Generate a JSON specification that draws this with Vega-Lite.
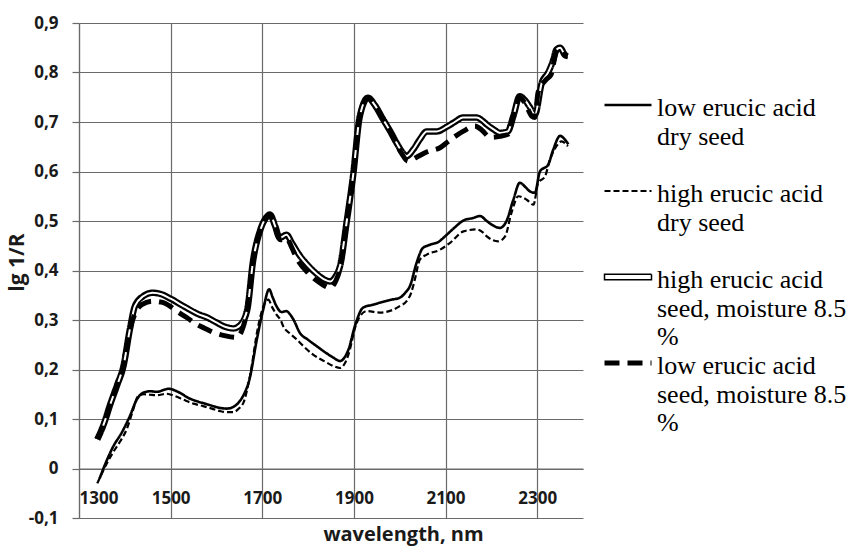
{
  "$schema": "https://vega.github.io/schema/vega-lite/v6.json",
  "width": 504,
  "height": 495,
  "autosize": {"type": "none"},
  "padding": {"left": 79, "top": 23, "right": 282, "bottom": 30},
  "background": "white",
  "config": {"view": {"stroke": null}},
  "datasets": {
    "spectra": [
      {"series": "low erucic acid dry seed", "wl": 1345, "val": -0.02},
      {"series": "low erucic acid dry seed", "wl": 1360, "val": 0.015},
      {"series": "low erucic acid dry seed", "wl": 1375, "val": 0.045},
      {"series": "low erucic acid dry seed", "wl": 1393, "val": 0.072},
      {"series": "low erucic acid dry seed", "wl": 1411, "val": 0.106},
      {"series": "low erucic acid dry seed", "wl": 1426, "val": 0.139},
      {"series": "low erucic acid dry seed", "wl": 1440, "val": 0.153},
      {"series": "low erucic acid dry seed", "wl": 1455, "val": 0.156},
      {"series": "low erucic acid dry seed", "wl": 1470, "val": 0.155},
      {"series": "low erucic acid dry seed", "wl": 1495, "val": 0.161},
      {"series": "low erucic acid dry seed", "wl": 1520, "val": 0.153},
      {"series": "low erucic acid dry seed", "wl": 1540, "val": 0.142},
      {"series": "low erucic acid dry seed", "wl": 1557, "val": 0.136},
      {"series": "low erucic acid dry seed", "wl": 1575, "val": 0.131},
      {"series": "low erucic acid dry seed", "wl": 1593, "val": 0.126},
      {"series": "low erucic acid dry seed", "wl": 1610, "val": 0.122},
      {"series": "low erucic acid dry seed", "wl": 1622, "val": 0.121},
      {"series": "low erucic acid dry seed", "wl": 1636, "val": 0.124},
      {"series": "low erucic acid dry seed", "wl": 1648, "val": 0.133},
      {"series": "low erucic acid dry seed", "wl": 1660, "val": 0.15},
      {"series": "low erucic acid dry seed", "wl": 1672, "val": 0.18},
      {"series": "low erucic acid dry seed", "wl": 1688, "val": 0.26},
      {"series": "low erucic acid dry seed", "wl": 1702, "val": 0.321},
      {"series": "low erucic acid dry seed", "wl": 1715, "val": 0.362},
      {"series": "low erucic acid dry seed", "wl": 1723, "val": 0.345},
      {"series": "low erucic acid dry seed", "wl": 1731, "val": 0.328},
      {"series": "low erucic acid dry seed", "wl": 1742, "val": 0.316},
      {"series": "low erucic acid dry seed", "wl": 1753, "val": 0.318},
      {"series": "low erucic acid dry seed", "wl": 1760, "val": 0.312},
      {"series": "low erucic acid dry seed", "wl": 1768, "val": 0.301},
      {"series": "low erucic acid dry seed", "wl": 1782, "val": 0.274},
      {"series": "low erucic acid dry seed", "wl": 1800, "val": 0.26},
      {"series": "low erucic acid dry seed", "wl": 1819, "val": 0.247},
      {"series": "low erucic acid dry seed", "wl": 1840, "val": 0.233},
      {"series": "low erucic acid dry seed", "wl": 1855, "val": 0.224},
      {"series": "low erucic acid dry seed", "wl": 1870, "val": 0.217},
      {"series": "low erucic acid dry seed", "wl": 1880, "val": 0.225},
      {"series": "low erucic acid dry seed", "wl": 1888, "val": 0.24},
      {"series": "low erucic acid dry seed", "wl": 1902, "val": 0.287},
      {"series": "low erucic acid dry seed", "wl": 1920, "val": 0.325},
      {"series": "low erucic acid dry seed", "wl": 1942, "val": 0.331},
      {"series": "low erucic acid dry seed", "wl": 1957, "val": 0.335},
      {"series": "low erucic acid dry seed", "wl": 1982, "val": 0.341},
      {"series": "low erucic acid dry seed", "wl": 2000, "val": 0.345},
      {"series": "low erucic acid dry seed", "wl": 2012, "val": 0.355},
      {"series": "low erucic acid dry seed", "wl": 2022, "val": 0.368},
      {"series": "low erucic acid dry seed", "wl": 2037, "val": 0.416},
      {"series": "low erucic acid dry seed", "wl": 2050, "val": 0.445},
      {"series": "low erucic acid dry seed", "wl": 2066, "val": 0.452},
      {"series": "low erucic acid dry seed", "wl": 2085, "val": 0.458},
      {"series": "low erucic acid dry seed", "wl": 2100, "val": 0.47},
      {"series": "low erucic acid dry seed", "wl": 2120, "val": 0.487},
      {"series": "low erucic acid dry seed", "wl": 2139, "val": 0.501},
      {"series": "low erucic acid dry seed", "wl": 2160, "val": 0.506},
      {"series": "low erucic acid dry seed", "wl": 2175, "val": 0.51},
      {"series": "low erucic acid dry seed", "wl": 2190, "val": 0.5},
      {"series": "low erucic acid dry seed", "wl": 2200, "val": 0.493},
      {"series": "low erucic acid dry seed", "wl": 2219, "val": 0.486},
      {"series": "low erucic acid dry seed", "wl": 2233, "val": 0.5},
      {"series": "low erucic acid dry seed", "wl": 2248, "val": 0.543},
      {"series": "low erucic acid dry seed", "wl": 2262, "val": 0.577},
      {"series": "low erucic acid dry seed", "wl": 2275, "val": 0.568},
      {"series": "low erucic acid dry seed", "wl": 2284, "val": 0.56},
      {"series": "low erucic acid dry seed", "wl": 2295, "val": 0.557},
      {"series": "low erucic acid dry seed", "wl": 2306, "val": 0.6},
      {"series": "low erucic acid dry seed", "wl": 2324, "val": 0.614},
      {"series": "low erucic acid dry seed", "wl": 2335, "val": 0.644},
      {"series": "low erucic acid dry seed", "wl": 2350, "val": 0.672},
      {"series": "low erucic acid dry seed", "wl": 2360, "val": 0.665},
      {"series": "low erucic acid dry seed", "wl": 2368, "val": 0.655},

      {"series": "high erucic acid dry seed", "wl": 1340, "val": -0.03},
      {"series": "high erucic acid dry seed", "wl": 1355, "val": 0.0},
      {"series": "high erucic acid dry seed", "wl": 1374, "val": 0.032},
      {"series": "high erucic acid dry seed", "wl": 1390, "val": 0.055},
      {"series": "high erucic acid dry seed", "wl": 1404, "val": 0.079},
      {"series": "high erucic acid dry seed", "wl": 1417, "val": 0.115},
      {"series": "high erucic acid dry seed", "wl": 1429, "val": 0.146},
      {"series": "high erucic acid dry seed", "wl": 1442, "val": 0.15},
      {"series": "high erucic acid dry seed", "wl": 1455, "val": 0.149},
      {"series": "high erucic acid dry seed", "wl": 1470, "val": 0.148},
      {"series": "high erucic acid dry seed", "wl": 1491, "val": 0.151},
      {"series": "high erucic acid dry seed", "wl": 1510, "val": 0.146},
      {"series": "high erucic acid dry seed", "wl": 1528, "val": 0.139},
      {"series": "high erucic acid dry seed", "wl": 1550, "val": 0.131},
      {"series": "high erucic acid dry seed", "wl": 1571, "val": 0.126},
      {"series": "high erucic acid dry seed", "wl": 1590, "val": 0.121},
      {"series": "high erucic acid dry seed", "wl": 1608, "val": 0.116},
      {"series": "high erucic acid dry seed", "wl": 1622, "val": 0.114},
      {"series": "high erucic acid dry seed", "wl": 1637, "val": 0.114},
      {"series": "high erucic acid dry seed", "wl": 1650, "val": 0.122},
      {"series": "high erucic acid dry seed", "wl": 1659, "val": 0.133},
      {"series": "high erucic acid dry seed", "wl": 1673, "val": 0.186},
      {"series": "high erucic acid dry seed", "wl": 1691, "val": 0.287},
      {"series": "high erucic acid dry seed", "wl": 1706, "val": 0.335},
      {"series": "high erucic acid dry seed", "wl": 1713, "val": 0.341},
      {"series": "high erucic acid dry seed", "wl": 1722, "val": 0.325},
      {"series": "high erucic acid dry seed", "wl": 1731, "val": 0.311},
      {"series": "high erucic acid dry seed", "wl": 1740, "val": 0.3},
      {"series": "high erucic acid dry seed", "wl": 1746, "val": 0.287},
      {"series": "high erucic acid dry seed", "wl": 1760, "val": 0.273},
      {"series": "high erucic acid dry seed", "wl": 1775, "val": 0.261},
      {"series": "high erucic acid dry seed", "wl": 1790, "val": 0.247},
      {"series": "high erucic acid dry seed", "wl": 1811, "val": 0.23},
      {"series": "high erucic acid dry seed", "wl": 1835, "val": 0.217},
      {"series": "high erucic acid dry seed", "wl": 1855, "val": 0.207},
      {"series": "high erucic acid dry seed", "wl": 1870, "val": 0.203},
      {"series": "high erucic acid dry seed", "wl": 1880, "val": 0.212},
      {"series": "high erucic acid dry seed", "wl": 1888, "val": 0.23},
      {"series": "high erucic acid dry seed", "wl": 1906, "val": 0.294},
      {"series": "high erucic acid dry seed", "wl": 1928, "val": 0.318},
      {"series": "high erucic acid dry seed", "wl": 1957, "val": 0.315},
      {"series": "high erucic acid dry seed", "wl": 1986, "val": 0.321},
      {"series": "high erucic acid dry seed", "wl": 2000, "val": 0.328},
      {"series": "high erucic acid dry seed", "wl": 2015, "val": 0.338},
      {"series": "high erucic acid dry seed", "wl": 2025, "val": 0.355},
      {"series": "high erucic acid dry seed", "wl": 2033, "val": 0.382},
      {"series": "high erucic acid dry seed", "wl": 2044, "val": 0.422},
      {"series": "high erucic acid dry seed", "wl": 2059, "val": 0.432},
      {"series": "high erucic acid dry seed", "wl": 2088, "val": 0.442},
      {"series": "high erucic acid dry seed", "wl": 2110, "val": 0.456},
      {"series": "high erucic acid dry seed", "wl": 2139, "val": 0.479},
      {"series": "high erucic acid dry seed", "wl": 2168, "val": 0.483},
      {"series": "high erucic acid dry seed", "wl": 2180, "val": 0.478},
      {"series": "high erucic acid dry seed", "wl": 2190, "val": 0.469},
      {"series": "high erucic acid dry seed", "wl": 2215, "val": 0.459},
      {"series": "high erucic acid dry seed", "wl": 2230, "val": 0.469},
      {"series": "high erucic acid dry seed", "wl": 2244, "val": 0.517},
      {"series": "high erucic acid dry seed", "wl": 2259, "val": 0.55},
      {"series": "high erucic acid dry seed", "wl": 2277, "val": 0.543},
      {"series": "high erucic acid dry seed", "wl": 2292, "val": 0.533},
      {"series": "high erucic acid dry seed", "wl": 2302, "val": 0.577},
      {"series": "high erucic acid dry seed", "wl": 2317, "val": 0.59},
      {"series": "high erucic acid dry seed", "wl": 2328, "val": 0.624},
      {"series": "high erucic acid dry seed", "wl": 2342, "val": 0.651},
      {"series": "high erucic acid dry seed", "wl": 2353, "val": 0.661},
      {"series": "high erucic acid dry seed", "wl": 2367, "val": 0.651},

      {"series": "high erucic acid seed, moisture 8.5 %", "wl": 1340, "val": 0.059},
      {"series": "high erucic acid seed, moisture 8.5 %", "wl": 1355, "val": 0.092},
      {"series": "high erucic acid seed, moisture 8.5 %", "wl": 1368, "val": 0.129},
      {"series": "high erucic acid seed, moisture 8.5 %", "wl": 1383, "val": 0.168},
      {"series": "high erucic acid seed, moisture 8.5 %", "wl": 1397, "val": 0.207},
      {"series": "high erucic acid seed, moisture 8.5 %", "wl": 1411, "val": 0.281},
      {"series": "high erucic acid seed, moisture 8.5 %", "wl": 1422, "val": 0.328},
      {"series": "high erucic acid seed, moisture 8.5 %", "wl": 1440, "val": 0.348},
      {"series": "high erucic acid seed, moisture 8.5 %", "wl": 1460, "val": 0.355},
      {"series": "high erucic acid seed, moisture 8.5 %", "wl": 1480, "val": 0.352},
      {"series": "high erucic acid seed, moisture 8.5 %", "wl": 1500, "val": 0.343},
      {"series": "high erucic acid seed, moisture 8.5 %", "wl": 1530, "val": 0.327},
      {"series": "high erucic acid seed, moisture 8.5 %", "wl": 1560, "val": 0.312},
      {"series": "high erucic acid seed, moisture 8.5 %", "wl": 1580, "val": 0.305},
      {"series": "high erucic acid seed, moisture 8.5 %", "wl": 1600, "val": 0.295},
      {"series": "high erucic acid seed, moisture 8.5 %", "wl": 1620, "val": 0.286},
      {"series": "high erucic acid seed, moisture 8.5 %", "wl": 1637, "val": 0.283},
      {"series": "high erucic acid seed, moisture 8.5 %", "wl": 1652, "val": 0.29},
      {"series": "high erucic acid seed, moisture 8.5 %", "wl": 1667, "val": 0.32},
      {"series": "high erucic acid seed, moisture 8.5 %", "wl": 1680, "val": 0.42},
      {"series": "high erucic acid seed, moisture 8.5 %", "wl": 1695, "val": 0.48},
      {"series": "high erucic acid seed, moisture 8.5 %", "wl": 1707, "val": 0.505},
      {"series": "high erucic acid seed, moisture 8.5 %", "wl": 1717, "val": 0.513},
      {"series": "high erucic acid seed, moisture 8.5 %", "wl": 1728, "val": 0.49},
      {"series": "high erucic acid seed, moisture 8.5 %", "wl": 1738, "val": 0.466},
      {"series": "high erucic acid seed, moisture 8.5 %", "wl": 1753, "val": 0.472},
      {"series": "high erucic acid seed, moisture 8.5 %", "wl": 1765, "val": 0.455},
      {"series": "high erucic acid seed, moisture 8.5 %", "wl": 1782, "val": 0.43},
      {"series": "high erucic acid seed, moisture 8.5 %", "wl": 1800, "val": 0.41},
      {"series": "high erucic acid seed, moisture 8.5 %", "wl": 1819, "val": 0.393},
      {"series": "high erucic acid seed, moisture 8.5 %", "wl": 1835, "val": 0.382},
      {"series": "high erucic acid seed, moisture 8.5 %", "wl": 1848, "val": 0.378},
      {"series": "high erucic acid seed, moisture 8.5 %", "wl": 1860, "val": 0.388},
      {"series": "high erucic acid seed, moisture 8.5 %", "wl": 1870, "val": 0.41},
      {"series": "high erucic acid seed, moisture 8.5 %", "wl": 1884, "val": 0.497},
      {"series": "high erucic acid seed, moisture 8.5 %", "wl": 1898, "val": 0.59},
      {"series": "high erucic acid seed, moisture 8.5 %", "wl": 1913, "val": 0.712},
      {"series": "high erucic acid seed, moisture 8.5 %", "wl": 1931, "val": 0.749},
      {"series": "high erucic acid seed, moisture 8.5 %", "wl": 1945, "val": 0.735},
      {"series": "high erucic acid seed, moisture 8.5 %", "wl": 1964, "val": 0.705},
      {"series": "high erucic acid seed, moisture 8.5 %", "wl": 1980, "val": 0.68},
      {"series": "high erucic acid seed, moisture 8.5 %", "wl": 1993, "val": 0.658},
      {"series": "high erucic acid seed, moisture 8.5 %", "wl": 2005, "val": 0.64},
      {"series": "high erucic acid seed, moisture 8.5 %", "wl": 2015, "val": 0.631},
      {"series": "high erucic acid seed, moisture 8.5 %", "wl": 2030, "val": 0.645},
      {"series": "high erucic acid seed, moisture 8.5 %", "wl": 2044, "val": 0.665},
      {"series": "high erucic acid seed, moisture 8.5 %", "wl": 2059, "val": 0.681},
      {"series": "high erucic acid seed, moisture 8.5 %", "wl": 2081, "val": 0.681},
      {"series": "high erucic acid seed, moisture 8.5 %", "wl": 2102, "val": 0.69},
      {"series": "high erucic acid seed, moisture 8.5 %", "wl": 2120, "val": 0.7},
      {"series": "high erucic acid seed, moisture 8.5 %", "wl": 2138, "val": 0.709},
      {"series": "high erucic acid seed, moisture 8.5 %", "wl": 2168, "val": 0.709},
      {"series": "high erucic acid seed, moisture 8.5 %", "wl": 2180, "val": 0.703},
      {"series": "high erucic acid seed, moisture 8.5 %", "wl": 2190, "val": 0.695},
      {"series": "high erucic acid seed, moisture 8.5 %", "wl": 2205, "val": 0.685},
      {"series": "high erucic acid seed, moisture 8.5 %", "wl": 2219, "val": 0.678},
      {"series": "high erucic acid seed, moisture 8.5 %", "wl": 2236, "val": 0.681},
      {"series": "high erucic acid seed, moisture 8.5 %", "wl": 2248, "val": 0.712},
      {"series": "high erucic acid seed, moisture 8.5 %", "wl": 2262, "val": 0.752},
      {"series": "high erucic acid seed, moisture 8.5 %", "wl": 2275, "val": 0.742},
      {"series": "high erucic acid seed, moisture 8.5 %", "wl": 2284, "val": 0.73},
      {"series": "high erucic acid seed, moisture 8.5 %", "wl": 2295, "val": 0.715},
      {"series": "high erucic acid seed, moisture 8.5 %", "wl": 2310, "val": 0.779},
      {"series": "high erucic acid seed, moisture 8.5 %", "wl": 2324, "val": 0.8},
      {"series": "high erucic acid seed, moisture 8.5 %", "wl": 2335, "val": 0.825},
      {"series": "high erucic acid seed, moisture 8.5 %", "wl": 2342, "val": 0.846},
      {"series": "high erucic acid seed, moisture 8.5 %", "wl": 2350, "val": 0.85},
      {"series": "high erucic acid seed, moisture 8.5 %", "wl": 2361, "val": 0.835},
      {"series": "high erucic acid seed, moisture 8.5 %", "wl": 2367, "val": 0.833},

      {"series": "low erucic acid seed, moisture 8.5 %", "wl": 1340, "val": 0.059},
      {"series": "low erucic acid seed, moisture 8.5 %", "wl": 1355, "val": 0.092},
      {"series": "low erucic acid seed, moisture 8.5 %", "wl": 1368, "val": 0.129},
      {"series": "low erucic acid seed, moisture 8.5 %", "wl": 1383, "val": 0.168},
      {"series": "low erucic acid seed, moisture 8.5 %", "wl": 1397, "val": 0.207},
      {"series": "low erucic acid seed, moisture 8.5 %", "wl": 1411, "val": 0.281},
      {"series": "low erucic acid seed, moisture 8.5 %", "wl": 1425, "val": 0.318},
      {"series": "low erucic acid seed, moisture 8.5 %", "wl": 1437, "val": 0.331},
      {"series": "low erucic acid seed, moisture 8.5 %", "wl": 1460, "val": 0.338},
      {"series": "low erucic acid seed, moisture 8.5 %", "wl": 1480, "val": 0.336},
      {"series": "low erucic acid seed, moisture 8.5 %", "wl": 1500, "val": 0.327},
      {"series": "low erucic acid seed, moisture 8.5 %", "wl": 1513, "val": 0.318},
      {"series": "low erucic acid seed, moisture 8.5 %", "wl": 1535, "val": 0.305},
      {"series": "low erucic acid seed, moisture 8.5 %", "wl": 1557, "val": 0.291},
      {"series": "low erucic acid seed, moisture 8.5 %", "wl": 1575, "val": 0.283},
      {"series": "low erucic acid seed, moisture 8.5 %", "wl": 1593, "val": 0.275},
      {"series": "low erucic acid seed, moisture 8.5 %", "wl": 1620, "val": 0.268},
      {"series": "low erucic acid seed, moisture 8.5 %", "wl": 1644, "val": 0.265},
      {"series": "low erucic acid seed, moisture 8.5 %", "wl": 1656, "val": 0.28},
      {"series": "low erucic acid seed, moisture 8.5 %", "wl": 1667, "val": 0.32},
      {"series": "low erucic acid seed, moisture 8.5 %", "wl": 1680, "val": 0.42},
      {"series": "low erucic acid seed, moisture 8.5 %", "wl": 1695, "val": 0.48},
      {"series": "low erucic acid seed, moisture 8.5 %", "wl": 1707, "val": 0.505},
      {"series": "low erucic acid seed, moisture 8.5 %", "wl": 1717, "val": 0.512},
      {"series": "low erucic acid seed, moisture 8.5 %", "wl": 1728, "val": 0.487},
      {"series": "low erucic acid seed, moisture 8.5 %", "wl": 1740, "val": 0.462},
      {"series": "low erucic acid seed, moisture 8.5 %", "wl": 1753, "val": 0.465},
      {"series": "low erucic acid seed, moisture 8.5 %", "wl": 1765, "val": 0.445},
      {"series": "low erucic acid seed, moisture 8.5 %", "wl": 1775, "val": 0.425},
      {"series": "low erucic acid seed, moisture 8.5 %", "wl": 1800, "val": 0.395},
      {"series": "low erucic acid seed, moisture 8.5 %", "wl": 1826, "val": 0.375},
      {"series": "low erucic acid seed, moisture 8.5 %", "wl": 1848, "val": 0.365},
      {"series": "low erucic acid seed, moisture 8.5 %", "wl": 1860, "val": 0.378},
      {"series": "low erucic acid seed, moisture 8.5 %", "wl": 1870, "val": 0.405},
      {"series": "low erucic acid seed, moisture 8.5 %", "wl": 1884, "val": 0.497},
      {"series": "low erucic acid seed, moisture 8.5 %", "wl": 1898, "val": 0.59},
      {"series": "low erucic acid seed, moisture 8.5 %", "wl": 1913, "val": 0.712},
      {"series": "low erucic acid seed, moisture 8.5 %", "wl": 1931, "val": 0.749},
      {"series": "low erucic acid seed, moisture 8.5 %", "wl": 1945, "val": 0.735},
      {"series": "low erucic acid seed, moisture 8.5 %", "wl": 1964, "val": 0.705},
      {"series": "low erucic acid seed, moisture 8.5 %", "wl": 1980, "val": 0.68},
      {"series": "low erucic acid seed, moisture 8.5 %", "wl": 1993, "val": 0.655},
      {"series": "low erucic acid seed, moisture 8.5 %", "wl": 2005, "val": 0.635},
      {"series": "low erucic acid seed, moisture 8.5 %", "wl": 2018, "val": 0.621},
      {"series": "low erucic acid seed, moisture 8.5 %", "wl": 2035, "val": 0.628},
      {"series": "low erucic acid seed, moisture 8.5 %", "wl": 2060, "val": 0.64},
      {"series": "low erucic acid seed, moisture 8.5 %", "wl": 2088, "val": 0.648},
      {"series": "low erucic acid seed, moisture 8.5 %", "wl": 2105, "val": 0.66},
      {"series": "low erucic acid seed, moisture 8.5 %", "wl": 2121, "val": 0.671},
      {"series": "low erucic acid seed, moisture 8.5 %", "wl": 2140, "val": 0.682},
      {"series": "low erucic acid seed, moisture 8.5 %", "wl": 2164, "val": 0.692},
      {"series": "low erucic acid seed, moisture 8.5 %", "wl": 2180, "val": 0.683},
      {"series": "low erucic acid seed, moisture 8.5 %", "wl": 2197, "val": 0.669},
      {"series": "low erucic acid seed, moisture 8.5 %", "wl": 2219, "val": 0.671},
      {"series": "low erucic acid seed, moisture 8.5 %", "wl": 2236, "val": 0.675},
      {"series": "low erucic acid seed, moisture 8.5 %", "wl": 2248, "val": 0.712},
      {"series": "low erucic acid seed, moisture 8.5 %", "wl": 2262, "val": 0.75},
      {"series": "low erucic acid seed, moisture 8.5 %", "wl": 2275, "val": 0.735},
      {"series": "low erucic acid seed, moisture 8.5 %", "wl": 2288, "val": 0.712},
      {"series": "low erucic acid seed, moisture 8.5 %", "wl": 2295, "val": 0.709},
      {"series": "low erucic acid seed, moisture 8.5 %", "wl": 2302, "val": 0.76},
      {"series": "low erucic acid seed, moisture 8.5 %", "wl": 2320, "val": 0.786},
      {"series": "low erucic acid seed, moisture 8.5 %", "wl": 2330, "val": 0.795},
      {"series": "low erucic acid seed, moisture 8.5 %", "wl": 2342, "val": 0.843},
      {"series": "low erucic acid seed, moisture 8.5 %", "wl": 2350, "val": 0.848},
      {"series": "low erucic acid seed, moisture 8.5 %", "wl": 2361, "val": 0.835},
      {"series": "low erucic acid seed, moisture 8.5 %", "wl": 2367, "val": 0.833}
    ]
  },
  "data": {"name": "spectra"},
  "encoding": {
    "x": {
      "field": "wl",
      "type": "quantitative",
      "scale": {"domain": [1300, 2400], "nice": false, "zero": false},
      "axis": {
        "values": [1300, 1500, 1700, 1900, 2100, 2300],
        "format": "d",
        "offset": -49.5,
        "grid": true,
        "gridColor": "#6a6a6a",
        "gridWidth": 1.2,
        "domainColor": "#6a6a6a",
        "domainWidth": 1.2,
        "ticks": false,
        "labelPadding": 22,
        "labelFont": "Open Sans",
        "labelFontWeight": "bold",
        "labelFontSize": 17,
        "labelColor": "#1a1a1a",
        "title": "wavelength, nm",
        "titleFont": "Open Sans",
        "titleFontWeight": "bold",
        "titleFontSize": 20,
        "titleColor": "#1a1a1a",
        "titleX": 324,
        "titleY": 66,
        "titleAlign": "center",
        "titleBaseline": "middle"
      }
    },
    "y": {
      "field": "val",
      "type": "quantitative",
      "scale": {"domain": [-0.1, 0.9], "nice": false, "zero": false},
      "axis": {
        "values": [-0.1, 0, 0.1, 0.2, 0.3, 0.4, 0.5, 0.6, 0.7, 0.8, 0.9],
        "labelExpr": "replace(datum.value + '', '.', ',')",
        "grid": true,
        "gridColor": "#6a6a6a",
        "gridWidth": 1.2,
        "domainColor": "#6a6a6a",
        "domainWidth": 1.2,
        "tickColor": "#6a6a6a",
        "tickWidth": 1.2,
        "tickSize": 7,
        "labelPadding": 14,
        "labelFont": "Open Sans",
        "labelFontWeight": "bold",
        "labelFontSize": 17,
        "labelColor": "#1a1a1a",
        "title": "lg 1/R",
        "titleFont": "Open Sans",
        "titleFontWeight": "bold",
        "titleFontSize": 21,
        "titleColor": "#1a1a1a",
        "titleAngle": -90,
        "titleX": -62,
        "titleY": 239,
        "titleAlign": "center",
        "titleBaseline": "middle"
      }
    }
  },
  "layer": [
    {
      "transform": [{"filter": "datum.series == 'low erucic acid dry seed'"}],
      "mark": {"type": "line", "color": "black", "strokeWidth": 2.6, "interpolate": "monotone"},
      "encoding": {
        "strokeDash": {
          "field": "series",
          "type": "nominal",
          "scale": {
            "domain": ["low erucic acid dry seed", "high erucic acid dry seed", "high erucic acid seed, moisture 8.5 %", "low erucic acid seed, moisture 8.5 %"],
            "range": [[1, 0], [6, 3], [1, 0], [15, 8]]
          },
          "legend": {
            "orient": "none",
            "legendX": 536,
            "legendY": 69,
            "title": null,
            "padding": 0,
            "symbolType": "stroke",
            "symbolSize": 2209,
            "symbolStrokeColor": "black",
            "labelOffset": 16,
            "labelFont": "Liberation Serif",
            "labelFontSize": 26,
            "labelColor": "black",
            "labelLimit": 400,
            "labelBaseline": "top",
            "gridAlign": "all",
            "rowPadding": 0,
            "labelExpr": "datum.label == 'low erucic acid dry seed' ? ['low erucic acid', 'dry  seed'] : datum.label == 'high erucic acid dry seed' ? ['high erucic acid', 'dry  seed'] : datum.label == 'high erucic acid seed, moisture 8.5 %' ? ['high erucic acid', 'seed, moisture 8.5', '%'] : ['low erucic acid', 'seed, moisture 8.5', '%']",
            "encode": {
              "symbols": {
                "update": {
                  "shape": {"signal": "datum.value == 'high erucic acid seed, moisture 8.5 %' ? 'M-1,-0.12H1V0.12H-1Z' : 'stroke'"},
                  "fill": {"signal": "datum.value == 'high erucic acid seed, moisture 8.5 %' ? 'white' : 'transparent'"},
                  "stroke": {"value": "black"},
                  "strokeDash": {"signal": "datum.value == 'low erucic acid seed, moisture 8.5 %' ? [24, 19] : datum.value == 'high erucic acid dry seed' ? [8, 4] : [1, 0]"},
                  "strokeWidth": {"signal": "datum.value == 'high erucic acid seed, moisture 8.5 %' ? 1.5 : datum.value == 'low erucic acid seed, moisture 8.5 %' ? 5 : datum.value == 'high erucic acid dry seed' ? 2 : 2.6"}
                }
              },
              "labels": {
                "update": {
                  "font": {"value": "Liberation Serif"},
                  "fontSize": {"value": 26},
                  "fill": {"value": "black"},
                  "baseline": {"value": "top"},
                  "dy": {"value": -10},
                  "lineHeight": {"value": 28.5}
                }
              }
            }
          }
        }
      }
    },
    {
      "transform": [{"filter": "datum.series == 'high erucic acid dry seed'"}],
      "mark": {"type": "line", "color": "black", "strokeWidth": 2.2, "interpolate": "monotone"},
      "encoding": {"strokeDash": {"field": "series", "type": "nominal"}}
    },
    {
      "transform": [{"filter": "datum.series == 'high erucic acid seed, moisture 8.5 %'"}],
      "mark": {"type": "line", "color": "black", "strokeWidth": 6.5, "interpolate": "monotone"},
      "encoding": {"strokeDash": {"field": "series", "type": "nominal"}}
    },
    {
      "transform": [{"filter": "datum.series == 'high erucic acid seed, moisture 8.5 %'"}],
      "mark": {"type": "line", "color": "white", "strokeWidth": 2, "interpolate": "monotone"},
      "encoding": {}
    },
    {
      "transform": [{"filter": "datum.series == 'low erucic acid seed, moisture 8.5 %'"}],
      "mark": {"type": "line", "color": "black", "strokeWidth": 5, "interpolate": "monotone"},
      "encoding": {"strokeDash": {"field": "series", "type": "nominal"}}
    }
  ]
}
